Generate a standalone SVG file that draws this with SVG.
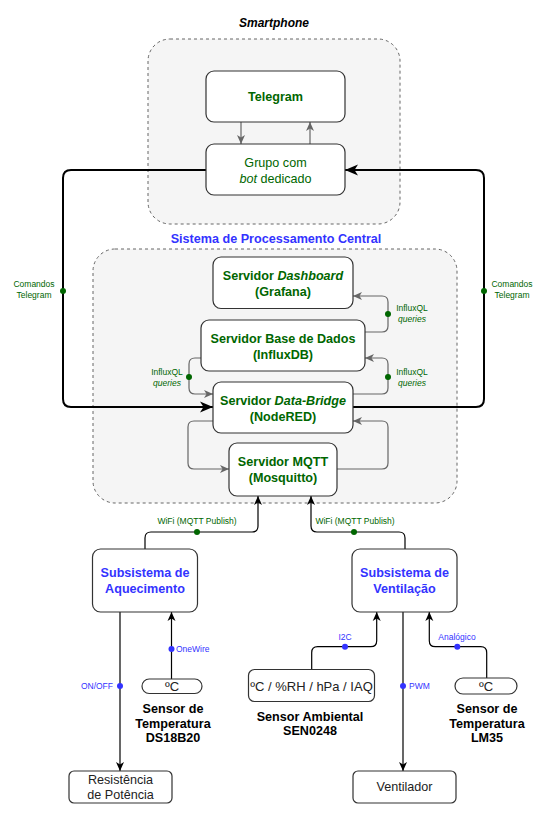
<svg xmlns="http://www.w3.org/2000/svg" width="542" height="822" viewBox="0 0 542 822">
<style>
text{font-family:"Liberation Sans",Arial,sans-serif;text-anchor:middle}
.cont{fill:#f5f5f5;stroke:#666;stroke-width:1;stroke-dasharray:3 3}
.box{fill:#fff;stroke:#333;stroke-width:1.2}
.gt{fill:#006600;font-size:12.6px}
.bt{fill:#3333ff;font-size:12.6px;font-weight:bold}
.kt{fill:#000;font-size:12.6px;font-weight:bold}
.rt{fill:#222;font-size:12.6px}
.b{font-weight:bold}
.i{font-style:italic}
.lg{fill:#006600;font-size:8.5px}
.lb{fill:#3333ff;font-size:8.5px}
.thick{fill:none;stroke:#000;stroke-width:2}
.gray{fill:none;stroke:#666;stroke-width:1.2}
.blk{fill:none;stroke:#000;stroke-width:1.2}
.dg{fill:#006600}
.db{fill:#3333ff}
</style>
<defs>
<marker id="abig" markerUnits="userSpaceOnUse" markerWidth="14" markerHeight="12" refX="13" refY="6" orient="auto"><path d="M0,0.5 L13,6 L0,11.5 L3.5,6 z" fill="#000"/></marker>
<marker id="ag" markerUnits="userSpaceOnUse" markerWidth="10" markerHeight="9" refX="9" refY="4.5" orient="auto"><path d="M0,0.5 L9,4.5 L0,8.5 L2.5,4.5 z" fill="#666"/></marker>
<marker id="ak" markerUnits="userSpaceOnUse" markerWidth="10" markerHeight="9" refX="9" refY="4.5" orient="auto"><path d="M0,0.5 L9,4.5 L0,8.5 L2.5,4.5 z" fill="#000"/></marker>
</defs>

<g id="smartphone">
<text x="274" y="27" class="b i" style="font-size:12px;fill:#000">Smartphone</text>
<rect class="cont" x="148" y="39" width="252" height="185" rx="22"/>
</g>
<g id="central">
<text x="276" y="243" class="bt">Sistema de Processamento Central</text>
<rect class="cont" x="93" y="249" width="364" height="254" rx="22"/>
</g>

<g id="connectors">
<path class="thick" d="M206,170 H71 Q63,170 63,178 V399 Q63,407 71,407 H213" marker-end="url(#abig)"/>
<path class="thick" d="M353,407 H476 Q484,407 484,399 V178 Q484,170 476,170 H345" marker-end="url(#abig)"/>
<circle class="dg" cx="63" cy="291" r="3"/>
<circle class="dg" cx="484" cy="291" r="3"/>
<text class="lg" x="34" y="287">Comandos</text>
<text class="lg" x="34" y="297.5">Telegram</text>
<text class="lg" x="512" y="287">Comandos</text>
<text class="lg" x="512" y="297.5">Telegram</text>

<path class="gray" d="M241,122 V144" marker-end="url(#ag)"/>
<path class="gray" d="M310,144 V122" marker-end="url(#ag)"/>

<path class="gray" d="M365,332 H382 Q388,332 388,326 V302 Q388,296 382,296 H353" marker-end="url(#ag)"/>
<circle class="dg" cx="388" cy="314" r="3"/>
<text class="lg" x="412" y="311">InfluxQL</text>
<text class="lg i" x="412" y="322">queries</text>

<path class="gray" d="M353,394 H382 Q388,394 388,388 V364 Q388,358 382,358 H365" marker-end="url(#ag)"/>
<circle class="dg" cx="388" cy="377" r="3"/>
<text class="lg" x="412" y="375">InfluxQL</text>
<text class="lg i" x="412" y="386">queries</text>

<path class="gray" d="M201,358 H195 Q189,358 189,364 V388 Q189,394 195,394 H213" marker-end="url(#ag)"/>
<circle class="dg" cx="189" cy="377" r="3"/>
<text class="lg" x="167" y="375">InfluxQL</text>
<text class="lg i" x="167" y="386">queries</text>

<path class="gray" d="M213,421 H194 Q188,421 188,427 V463 Q188,469 194,469 H229" marker-end="url(#ag)"/>
<path class="gray" d="M337,469 H382 Q388,469 388,463 V427 Q388,421 382,421 H353" marker-end="url(#ag)"/>

<path class="blk" d="M145,549 V538 Q145,532 151,532 H252 Q258,532 258,526 V496" marker-end="url(#ak)"/>
<circle class="dg" cx="197" cy="532" r="3"/>
<text class="lg" x="197" y="524">WiFi (MQTT Publish)</text>
<path class="blk" d="M405,549 V538 Q405,532 399,532 H317 Q311,532 311,526 V496" marker-end="url(#ak)"/>
<circle class="dg" cx="354" cy="532" r="3"/>
<text class="lg" x="355" y="524">WiFi (MQTT Publish)</text>

<path class="blk" d="M120,612 V771" marker-end="url(#ak)"/>
<circle class="db" cx="120" cy="686" r="3"/>
<text class="lb" x="113" y="689" style="text-anchor:end">ON/OFF</text>
<path class="blk" d="M171.5,679 V612" marker-end="url(#ak)"/>
<circle class="db" cx="171.5" cy="649" r="3"/>
<text class="lb" x="176" y="652" style="text-anchor:start">OneWire</text>

<path class="blk" d="M403,612 V771" marker-end="url(#ak)"/>
<circle class="db" cx="403" cy="686" r="3"/>
<text class="lb" x="409" y="689" style="text-anchor:start">PWM</text>
<path class="blk" d="M311.7,669 V652.7 Q311.7,646.7 317.7,646.7 H370.7 Q376.7,646.7 376.7,640.7 V612" marker-end="url(#ak)"/>
<circle class="db" cx="345" cy="646.7" r="3"/>
<text class="lb" x="345" y="640">I2C</text>
<path class="blk" d="M486.7,678 V652.7 Q486.7,646.7 480.7,646.7 H435.3 Q429.3,646.7 429.3,640.7 V612" marker-end="url(#ak)"/>
<circle class="db" cx="457.3" cy="646.7" r="3"/>
<text class="lb" x="457" y="640">Analógico</text>
</g>

<g id="telegram">
<rect class="box" x="206" y="71" width="139" height="51" rx="8"/>
<text class="gt b" x="275.5" y="101">Telegram</text>
</g>
<g id="grupo">
<rect class="box" x="206" y="144" width="139" height="51" rx="8"/>
<text class="gt" x="275.5" y="166.5">Grupo com</text>
<text class="gt" x="275.5" y="182.5"><tspan class="i">bot</tspan> dedicado</text>
</g>
<g id="dashboard">
<rect class="box" x="213" y="257" width="140" height="51.5" rx="8"/>
<text class="gt b" x="283" y="279.5">Servidor <tspan class="i">Dashboard</tspan></text>
<text class="gt b" x="283" y="296">(Grafana)</text>
</g>
<g id="influxdb">
<rect class="box" x="201" y="320" width="164" height="51" rx="8"/>
<text class="gt b" x="283" y="342.5">Servidor Base de Dados</text>
<text class="gt b" x="283" y="358.5">(InfluxDB)</text>
</g>
<g id="nodered">
<rect class="box" x="213" y="382" width="140" height="51" rx="8"/>
<text class="gt b" x="283" y="405">Servidor <tspan class="i">Data-Bridge</tspan></text>
<text class="gt b" x="283" y="420.5">(NodeRED)</text>
</g>
<g id="mqtt">
<rect class="box" x="229" y="443" width="108" height="53" rx="8"/>
<text class="gt b" x="283" y="465.5">Servidor MQTT</text>
<text class="gt b" x="283" y="481.5">(Mosquitto)</text>
</g>
<g id="aquecimento">
<rect class="box" x="92.5" y="549" width="105" height="63" rx="8"/>
<text class="bt" x="145" y="577">Subsistema de</text>
<text class="bt" x="145" y="593">Aquecimento</text>
</g>
<g id="ventilacao">
<rect class="box" x="352" y="549" width="105" height="63" rx="8"/>
<text class="bt" x="404.5" y="577">Subsistema de</text>
<text class="bt" x="404.5" y="593">Ventilação</text>
</g>
<g id="ds18b20">
<rect class="box" x="142" y="679" width="60" height="14.5" rx="7.2"/>
<text class="rt" x="172" y="690.5" style="font-size:13px">ºC</text>
<text class="kt" x="173" y="712.5">Sensor de</text>
<text class="kt" x="173" y="727.5">Temperatura</text>
<text class="kt" x="173" y="742">DS18B20</text>
</g>
<g id="sen0248">
<rect class="box" x="248.5" y="669.5" width="126" height="32" rx="6"/>
<text class="rt" x="311.5" y="690.5" style="font-size:13px">ºC / %RH / hPa / IAQ</text>
<text class="kt" x="310" y="721">Sensor Ambiental</text>
<text class="kt" x="310" y="735">SEN0248</text>
</g>
<g id="lm35">
<rect class="box" x="455" y="678" width="62" height="16" rx="8"/>
<text class="rt" x="486" y="690.5" style="font-size:13px">ºC</text>
<text class="kt" x="487" y="712.5">Sensor de</text>
<text class="kt" x="487" y="727.5">Temperatura</text>
<text class="kt" x="487" y="742">LM35</text>
</g>
<g id="resistencia">
<rect class="box" x="69" y="771" width="103" height="32" rx="5"/>
<text class="rt" x="120.5" y="783.5">Resistência</text>
<text class="rt" x="120.5" y="799">de Potência</text>
</g>
<g id="ventilador">
<rect class="box" x="353" y="771" width="103" height="32" rx="5"/>
<text class="rt" x="404.5" y="791">Ventilador</text>
</g>
</svg>
